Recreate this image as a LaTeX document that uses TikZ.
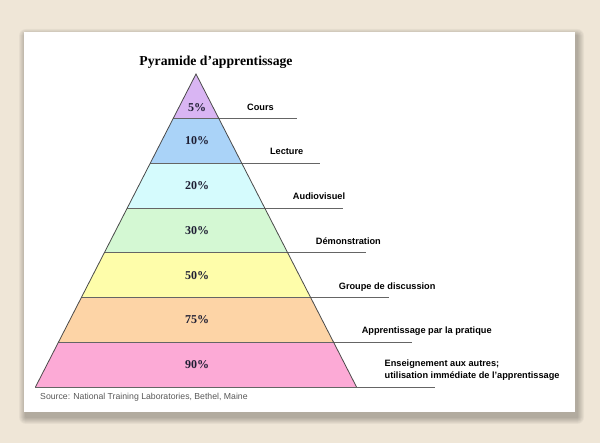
\documentclass[tikz,border=0pt]{standalone}
\usepackage{fontspec}
\setmainfont{Liberation Serif}
\setsansfont{Liberation Sans}
\usetikzlibrary{positioning}
\definecolor{bgbeige}{HTML}{EFE6D7}
\definecolor{lev1}{HTML}{D9B5F3}
\definecolor{lev2}{HTML}{AAD3F8}
\definecolor{lev3}{HTML}{D5FBFD}
\definecolor{lev4}{HTML}{D4F8D3}
\definecolor{lev5}{HTML}{FEFDAA}
\definecolor{lev6}{HTML}{FDD4A6}
\definecolor{lev7}{HTML}{FCAAD6}
\definecolor{pcttext}{HTML}{1E1E33}
\definecolor{edgegray}{HTML}{4A4A4A}
\tikzset{
  pct/.style={font=\rmfamily\bfseries\fontsize{12}{14}\selectfont, text=pcttext, inner sep=0pt},
  lab/.style={font=\sffamily\bfseries\fontsize{9.2}{11.5}\selectfont, anchor=base west, inner sep=0pt, align=left},
  level line/.style={draw=edgegray!85, line width=0.8pt},
  edge line/.style={draw=edgegray, line width=0.8pt, line join=miter},
  title/.style={font=\rmfamily\bfseries\fontsize{13.7}{16}\selectfont},
  source/.style={font=\sffamily\fontsize{8.7}{10}\selectfont, text=black!65, inner sep=0pt}
}
\begin{document}
\begin{tikzpicture}[x=1pt,y=-1pt]
\fill[bgbeige] (0,0) rectangle (600,443);
% soft shadow under the card
\foreach \s in {1,...,7} {
  \fill[black, opacity=0.04, rounded corners=\s pt] (24-\s+2,32-\s+4) rectangle (575+\s+2,412+\s+5);
}
\fill[white] (24,32) rectangle (575,412);
\def\cx{196}
\def\ytop{74}
\def\h{44.71}
\def\w{22.93}
\coordinate (apex) at (\cx,\ytop);
% coloured bands
\foreach \i/\col in {1/lev1,2/lev2,3/lev3,4/lev4,5/lev5,6/lev6,7/lev7} {
  \pgfmathsetmacro{\ya}{\ytop+\h*(\i-1)}
  \pgfmathsetmacro{\yb}{\ytop+\h*\i}
  \pgfmathsetmacro{\wa}{\w*(\i-1)}
  \pgfmathsetmacro{\wb}{\w*\i}
  \fill[\col] (\cx-\wa,\ya) -- (\cx+\wa,\ya) -- (\cx+\wb,\yb) -- (\cx-\wb,\yb) -- cycle;
}
% level lines, percentages and labels
\foreach \i/\pc/\lab in {1/5\%/Cours, 2/10\%/Lecture, 3/20\%/Audiovisuel,
    4/30\%/Démonstration, 5/50\%/Groupe de discussion,
    6/75\%/Apprentissage par la pratique,
    7/90\%/{Enseignement aux autres;\\utilisation immédiate de l'apprentissage}} {
  \pgfmathsetmacro{\yb}{\ytop+\h*\i}
  \pgfmathsetmacro{\wb}{\w*\i}
  \coordinate (l\i) at (\cx-\wb,\yb);
  \coordinate (r\i) at (\cx+\wb,\yb);
  \coordinate (e\i) at (\cx+\wb+78,\yb);
  \draw[level line] (l\i) -- (r\i) -- (e\i);
  \pgfmathsetmacro{\yp}{\i==1 ? \yb-11 : \yb-\h/2}
  \node[pct] (p\i) at (\cx+1,\yp) {\pc};
  \node[lab] (t\i) at (\cx+\wb+28,\yb-8.5) {\lab};
}
\draw[edge line] (l7) -- (apex) -- (r7);
\node[title] (title) at (216,62) {Pyramide d’apprentissage};
\node[source, anchor=west] (src) at (40,397) {Source: National Training Laboratories, Bethel, Maine};
\end{tikzpicture}
\end{document}
